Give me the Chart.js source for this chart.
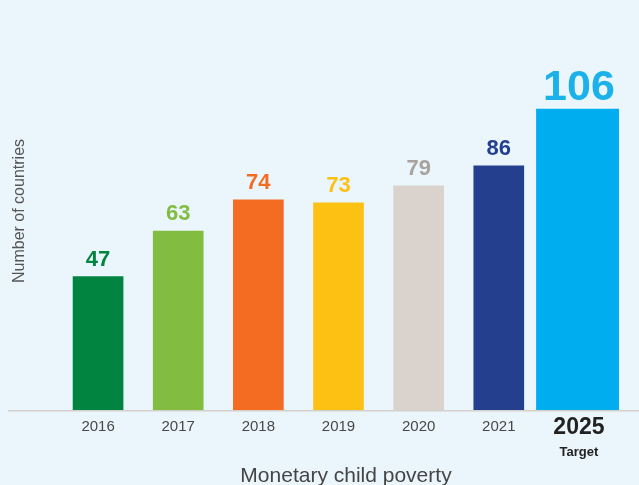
<!DOCTYPE html>
<html>
<head>
<meta charset="utf-8">
<script src="https://cdn.jsdelivr.net/npm/chart.js@4/dist/chart.umd.min.js"></script>
<style>
  html, body { margin: 0; padding: 0; background: #EAF6FC; }
  #wrap { width: 639px; height: 485px; }
</style>
</head>
<body>
<div id="wrap"><canvas id="chart" width="639" height="485"></canvas></div>
<script>
// Countries covered by monetary child poverty measures, per year
const years = ['2016', '2017', '2018', '2019', '2020', '2021', '2025'];
const countries = [47, 63, 74, 73, 79, 86, 106];
const targetIndex = 6;           // 2025 is the target year
const targetNote = 'Target';
const yTitle = 'Number of countries';
const xTitle = 'Monetary child poverty';

const barColors   = ['#00843F', '#82BC41', '#F36C22', '#FDC113', '#DAD3CD', '#233F8D', '#00AEEF'];
const valueColors = ['#00843F', '#82BC41', '#F36C22', '#FDC113', '#A9A39E', '#233F8D', '#1BB2EC'];

const SANS = "'Liberation Sans', Arial, sans-serif";

const recorded = countries.map((v, i) => (i === targetIndex ? null : v));
const target = countries.map((v, i) => (i === targetIndex ? v : null));

const decorations = {
  id: 'decorations',
  beforeDraw(chart) {
    const { ctx, width, height } = chart;
    ctx.save();
    ctx.fillStyle = '#EAF6FC';
    ctx.fillRect(0, 0, width, height);
    ctx.restore();
  },
  afterDatasetsDraw(chart) {
    const { ctx } = chart;
    const x = chart.scales.x;
    const y = chart.scales.y;
    ctx.save();

    // baseline
    const y0 = y.getPixelForValue(0);
    ctx.strokeStyle = '#D3CFCB';
    ctx.lineWidth = 1.5;
    ctx.beginPath();
    ctx.moveTo(8, y0 + 0.75);
    ctx.lineTo(chart.width, y0 + 0.75);
    ctx.stroke();

    // value labels above each bar
    ctx.textAlign = 'center';
    ctx.textBaseline = 'alphabetic';
    chart.data.datasets.forEach((ds, di) => {
      const meta = chart.getDatasetMeta(di);
      meta.data.forEach((bar, i) => {
        const v = ds.data[i];
        if (v === null || v === undefined) return;
        const big = i === targetIndex;
        ctx.font = (big ? 'bold 43px ' : 'bold 22px ') + SANS;
        ctx.fillStyle = valueColors[i];
        ctx.fillText(String(v), bar.x, bar.y - (big ? 9 : 11));
      });
    });

    // note under the target year
    ctx.font = 'bold 13px ' + SANS;
    ctx.fillStyle = '#222222';
    ctx.fillText(targetNote, x.getPixelForValue(targetIndex), 456);

    // x title
    ctx.font = '21px ' + SANS;
    ctx.fillStyle = '#454545';
    ctx.fillText(xTitle, 346, 482);

    // y title
    ctx.translate(20, 211);
    ctx.rotate(-Math.PI / 2);
    ctx.textBaseline = 'middle';
    ctx.font = '16px ' + SANS;
    ctx.fillStyle = '#555555';
    ctx.fillText(yTitle, 0, 0);

    ctx.restore();
  }
};

new Chart(document.getElementById('chart'), {
  type: 'bar',
  data: {
    labels: years,
    datasets: [
      { data: recorded, backgroundColor: barColors, barThickness: 50, grouped: false, borderWidth: 0 },
      { data: target, backgroundColor: barColors, barThickness: 85, grouped: false, borderWidth: 0 }
    ]
  },
  options: {
    responsive: false,
    devicePixelRatio: 1,
    animation: false,
    layout: { padding: { top: 41, left: 58, right: 20, bottom: 0 } },
    plugins: { legend: { display: false }, tooltip: { enabled: false } },
    scales: {
      x: {
        type: 'category',
        offset: true,
        grid: { display: false, drawTicks: false },
        border: { display: false },
        ticks: {
          autoSkip: false,
          maxRotation: 0,
          padding: 6,
          color: (c) => (c.index === targetIndex ? '#222222' : '#484848'),
          font: (c) => (c.index === targetIndex
            ? { family: SANS, size: 23, weight: 'bold', lineHeight: '24px' }
            : { family: SANS, size: 15, weight: 'normal', lineHeight: '21px' })
        },
        afterFit: (s) => { s.height = 75; }
      },
      y: { display: false, min: 0, max: 130 }
    }
  },
  plugins: [decorations]
});
</script>
</body>
</html>
